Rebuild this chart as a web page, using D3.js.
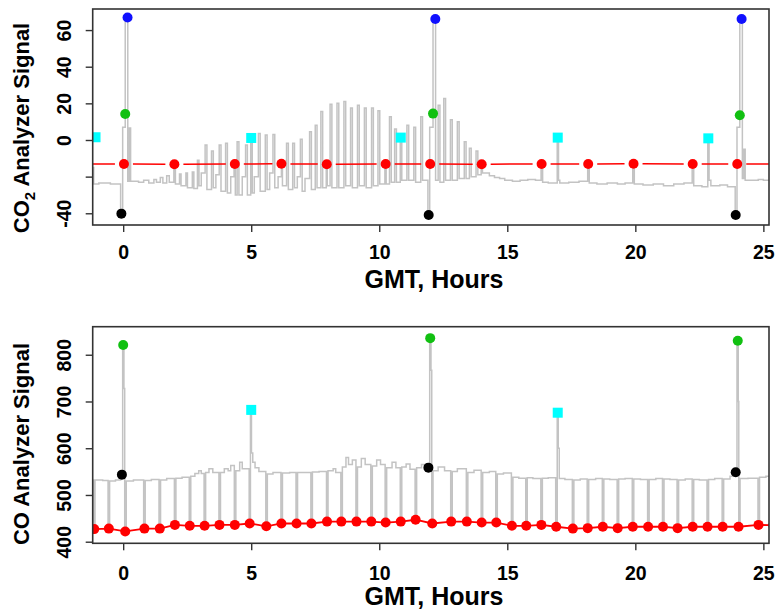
<!DOCTYPE html>
<html><head><meta charset="utf-8">
<script src="https://cdn.jsdelivr.net/npm/d3@7"></script>
<style>
body{margin:0;background:#fff}
svg{display:block}
text{font-family:"Liberation Sans",Arial,Helvetica,sans-serif;font-weight:bold;fill:#000}
</style>
</head><body>
<svg id="chart" width="778" height="611"></svg>
<script>
// ---------------- DATA ----------------
const xTicks = [0, 5, 10, 15, 20, 25];
const co2Ticks = [-40, -20, 0, 20, 40, 60];
const co2TickLabels = ["-40", "", "0", "20", "40", "60"];
const coTicks = [400, 500, 600, 700, 800];
const coTickLabels = ["400", "500", "600", "700", "800"];

// CO2 analyzer raw signal (hour, value), step trace
const co2Trace = [
[-1.25,-15],[-1.15,-24],[-0.95,-23.5],[-0.5,-24],[-0.1,-40],[-0.02,7],[0.08,66],[0.18,-22.5],[0.24,6.5],[0.29,-22.5],
[0.6,-23],[0.8,-22],[1.0,-23.5],[1.2,-21.5],[1.3,-23],[1.45,-20.5],[1.55,-23.5],[1.7,-19.5],[1.8,-23],[1.98,-13],[2.04,-24],
[2.2,-18.5],[2.26,-25],[2.45,-18],[2.51,-26],[2.7,-17.5],[2.76,-26.5],[2.9,-11],[2.96,-25],[3.05,-18],[3.2,-2.7],[3.27,-27],
[3.45,-6],[3.52,-26],[3.62,-19],[3.75,-2.7],[3.82,-28],[4.0,-1.8],[4.07,-29],[4.2,-20],[4.33,-13],[4.38,-30],[4.45,-1],[4.52,-30],
[4.65,-20],[4.78,-2.7],[4.85,-30],[4.98,1.1],[5.04,-29],[5.12,-20],[5.28,3.6],[5.35,-28],[5.55,2.7],[5.62,-27],[5.72,-18],
[5.85,3],[5.92,-26],[6.05,-20],[6.18,-13],[6.22,-25],[6.38,-1.8],[6.45,-27],[6.62,-1.8],[6.69,-26],[6.8,-20],[6.92,0.4],[6.99,-28],
[7.1,-21],[7.28,4.5],[7.35,-27],[7.5,8],[7.57,-26],[7.72,15.5],[7.79,-26],[7.93,-13],[7.97,-25],[8.08,19.5],[8.15,-26],
[8.35,20],[8.42,-26],[8.62,21],[8.69,-25],[8.88,17.5],[8.95,-26],[9.15,19],[9.22,-25],[9.42,17.5],[9.49,-26],[9.7,17.5],[9.77,-25],
[9.95,16],[10.02,-24],[10.22,-13],[10.27,-24],[10.4,12.7],[10.47,-23],[10.6,6],[10.67,-23],[10.82,1.3],[10.88,-22],
[11.08,8],[11.15,-22],[11.35,7],[11.42,-23],[11.62,12.7],[11.69,-22],[11.9,-40],[11.97,7],[12.1,66],[12.2,-22],
[12.3,19],[12.37,-23],[12.52,22.7],[12.59,-22],[12.78,11],[12.85,-22],[13.05,10],[13.12,-21],[13.32,-1],[13.39,-21],
[13.52,-4.5],[13.59,-20],[13.78,-6],[13.85,-19],[13.98,-13],[14.03,-18],[14.3,-19.5],[14.5,-20.5],[14.7,-21],[14.9,-22],
[15.2,-22.5],[15.5,-22],[15.8,-21.5],[16.1,-22],[16.32,-13],[16.38,-23],[16.6,-23.5],[16.95,1.3],[17.0,-22],[17.05,-23.5],
[17.4,-23],[17.8,-22.5],[18.14,-13],[18.2,-23.5],[18.5,-24],[18.9,-23.5],[19.3,-24],[19.6,-23.5],[19.9,-13],[19.96,-24],
[20.3,-24.5],[20.7,-24],[21.1,-25],[21.5,-24],[21.9,-23.5],[22.22,-13],[22.28,-25],[22.6,-25.5],[22.83,0.9],[22.88,-22],[22.95,-25],
[23.3,-24.5],[23.6,-25.5],[23.9,-40],[23.97,7],[24.08,66],[24.18,-21],[24.24,-5],[24.29,-22],[24.5,-22],[24.8,-21.5],[25.0,-22],[25.3,-21.5]
];
const co2ZeroHours = [-2.0, 0.03, 2.0, 4.36, 6.18, 7.95, 10.25, 11.99, 14.0, 16.34, 18.16, 19.93, 22.24, 23.98, 26.0];
const co2ZeroVals  = [-13.2, -13.1, -13.2, -13.1, -13.0, -13.2, -13.1, -13.1, -13.2, -13.1, -13.1, -13.0, -13.1, -13.1, -13.2];
const co2CyanHours = [-1.08, 5.0, 10.84, 16.97, 22.85];
const co2CyanVals  = [1.5, 1.1, 1.3, 1.3, 0.9];
const co2BlackHours = [-0.07, 11.93, 23.92];
const co2BlackVals  = [-40.2, -40.9, -40.9];
const co2GreenHours = [0.08, 12.1, 24.08];
const co2GreenVals  = [14.2, 14.4, 13.5];
const co2BlueHours = [0.17, 12.19, 24.15];
const co2BlueVals  = [66.9, 66, 66];

// CO analyzer raw signal (hour, value), step trace
const coTrace = [
[-1.25,532],[-1.16,427],[-1.1,532],[-0.8,531],[-0.59,428],[-0.53,530],[-0.3,532],[-0.1,543],[-0.02,821],[0.03,728],[0.06,422],[0.12,530],
[0.4,532],[0.8,428],[0.86,531],[1.1,533],[1.4,428],[1.46,532],[1.7,535],[2.0,436],[2.06,536],[2.3,538],[2.58,434],[2.64,540],
[2.8,546],[2.95,552],[3.05,546],[3.16,434],[3.22,548],[3.35,556],[3.5,548],[3.74,436],[3.8,548],[3.95,556],[4.1,552],[4.2,563],
[4.34,436],[4.4,552],[4.55,570],[4.65,556],[4.92,439],[4.97,682],[5.01,590],[5.06,570],[5.15,558],[5.3,550],[5.57,433],[5.63,545],
[5.85,548],[6.16,439],[6.22,547],[6.5,548],[6.75,439],[6.81,548],[7.05,548],[7.33,439],[7.39,549],[7.65,550],[7.94,443],[8.0,552],
[8.2,556],[8.3,548],[8.5,443],[8.56,560],[8.7,580],[8.8,565],[8.95,575],[9.09,443],[9.15,560],[9.3,578],[9.45,565],[9.67,443],
[9.73,562],[9.9,575],[10.05,565],[10.23,441],[10.29,558],[10.5,570],[10.65,558],[10.82,443],[10.88,560],[11.05,566],[11.2,555],
[11.4,447],[11.46,558],[11.65,565],[11.88,558],[11.97,835],[12.02,767],[12.05,439],[12.1,552],[12.3,560],[12.55,552],[12.79,443],
[12.85,550],[13.05,556],[13.4,443],[13.46,548],[13.7,553],[13.98,441],[14.04,548],[14.3,550],[14.55,441],[14.61,545],[14.85,547],
[15.16,434],[15.22,538],[15.45,536],[15.72,434],[15.78,537],[16.0,535],[16.31,436],[16.37,536],[16.6,537],[16.89,432],[16.95,676],
[16.99,600],[17.03,535],[17.25,533],[17.54,428],[17.6,532],[17.85,534],[18.12,429],[18.18,533],[18.45,535],[18.71,432],[18.77,534],
[19.0,533],[19.29,429],[19.35,534],[19.6,535],[19.88,432],[19.94,534],[20.2,533],[20.48,432],[20.54,533],[20.8,535],[21.06,432],
[21.12,534],[21.35,533],[21.63,429],[21.69,532],[21.95,534],[22.22,432],[22.28,533],[22.5,532],[22.8,432],[22.86,533],[23.1,535],
[23.39,432],[23.45,534],[23.7,540],[23.88,548],[23.97,830],[24.02,700],[24.04,432],[24.09,535],[24.4,536],[24.79,436],[24.85,538],
[25.1,540],[25.3,540]
];
const coZeroHours = [-1.71, -1.13, -0.56, 0.08, 0.83, 1.43, 2.02, 2.60, 3.18, 3.76, 4.36, 4.94, 5.59, 6.18, 6.77, 7.35, 7.96, 8.52, 9.11, 9.69, 10.25,
  10.84, 11.42, 12.07, 12.81, 13.42, 14.0, 14.57, 15.18, 15.74, 16.33, 16.91, 17.56, 18.14, 18.73, 19.31, 19.90, 20.5, 21.08, 21.65, 22.24,
  22.82, 23.41, 24.03, 24.81, 25.39];
const coZeroVals = [427, 427, 428, 422, 428, 428, 436, 434, 434, 436, 436, 439, 433, 439, 439, 439, 443, 443, 443, 443, 441,
  443, 447, 439, 443, 443, 441, 441, 434, 434, 436, 432, 428, 429, 432, 429, 432, 432, 432, 429, 432,
  432, 432, 432, 436, 435];
const coCyanHours = [5.0, 16.97];
const coCyanVals  = [682, 676];
const coBlackHours = [-0.05, 11.92, 23.92];
const coBlackVals  = [543.5, 558.5, 548.6];
const coGreenHours = [0.0, 11.99, 24.0];
const coGreenVals  = [821, 835.5, 829.8];

// ---------------- DRAWING ----------------
const svg = d3.select("#chart");
const L = 92.7, R = 769;
const x = d3.scaleLinear().domain([-1.19, 25.22]).range([L, R]);
const axisCol = "#333";

function panel(id, y0, y1, yDomain, ticks, tickLabels, xTickBase, xTitleBase, yTitleCenter, yTitleFn) {
  const y = d3.scaleLinear().domain(yDomain).range([y1, y0]);
  const clipId = "clip" + id;
  svg.append("clipPath").attr("id", clipId)
    .append("rect").attr("x", L).attr("y", y0).attr("width", R - L).attr("height", y1 - y0);
  const g = svg.append("g");
  const plot = g.append("g").attr("clip-path", `url(#${clipId})`);
  const xa = g.append("g").attr("transform", `translate(0,${y1})`)
    .call(d3.axisBottom(x).tickValues(xTicks).tickSize(7).tickSizeOuter(0).tickFormat(d3.format("d")));
  xa.select(".domain").remove();
  xa.selectAll("line").attr("stroke", axisCol).attr("stroke-width", 1.4);
  xa.selectAll("text").attr("y", xTickBase - y1).attr("dy", null)
    .style("font-size", "19.5px").style("font-family", "Liberation Sans, Arial, sans-serif").style("font-weight", "bold").attr("fill", "#000");
  const ya = g.append("g").attr("transform", `translate(${L},0)`)
    .call(d3.axisLeft(y).tickValues(ticks).tickSize(7).tickSizeOuter(0).tickFormat((d, i) => tickLabels[i]));
  ya.select(".domain").remove();
  ya.selectAll("line").attr("stroke", axisCol).attr("stroke-width", 1.4);
  ya.selectAll("text").attr("x", null).attr("dy", null).attr("y", 0)
    .attr("text-anchor", "middle")
    .attr("transform", `translate(${71 - L},0) rotate(-90)`)
    .style("font-size", "19.5px").style("font-family", "Liberation Sans, Arial, sans-serif").style("font-weight", "bold").attr("fill", "#000");
  g.append("rect").attr("x", L).attr("y", y0).attr("width", R - L).attr("height", y1 - y0)
    .attr("fill", "none").attr("stroke", axisCol).attr("stroke-width", 1.6);
  g.append("text").attr("x", 434).attr("y", xTitleBase).attr("text-anchor", "middle")
    .style("font-size", "25px").text("GMT, Hours");
  const yt = g.append("text").attr("transform", `translate(29,${yTitleCenter}) rotate(-90)`)
    .attr("text-anchor", "middle").style("font-size", "22px");
  yTitleFn(yt);
  return {y, plot, g};
}

function drawTrace(p, trace) {
  const line = d3.line().x(d => x(d[0])).y(d => p.y(d[1])).curve(d3.curveStepAfter);
  p.plot.append("path").attr("d", line(trace)).attr("fill", "none")
    .attr("stroke", "#c3c3c3").attr("stroke-width", 1.5);
}
function dots(p, hours, vals, color, r) {
  p.plot.append("g").selectAll("circle").data(hours).join("circle")
    .attr("cx", d => x(d)).attr("cy", (d, i) => p.y(vals[i])).attr("r", r).attr("fill", color);
}
function squares(p, hours, vals, color, s) {
  p.plot.append("g").selectAll("rect").data(hours).join("rect")
    .attr("x", d => x(d) - s / 2).attr("y", (d, i) => p.y(vals[i]) - s / 2)
    .attr("width", s).attr("height", s).attr("fill", color);
}

// ---- Top panel: CO2
const pTop = panel("A", 9, 225, [-46.4, 71.5], co2Ticks, co2TickLabels, 259, 288, 128, t => {
  t.append("tspan").text("CO");
  t.append("tspan").text("2").style("font-size", "15px").attr("dy", 6);
  t.append("tspan").text(" Analyzer Signal").attr("dy", -6);
});
drawTrace(pTop, co2Trace);
{
  const gap = 9;
  const pts = co2ZeroHours.map((h, i) => [x(h), pTop.y(co2ZeroVals[i])]);
  const segs = [];
  for (let i = 0; i < pts.length - 1; i++) {
    const [x1, y1] = pts[i], [x2, y2] = pts[i + 1];
    const len = Math.hypot(x2 - x1, y2 - y1);
    if (len <= 2 * gap) continue;
    const ux = (x2 - x1) / len, uy = (y2 - y1) / len;
    segs.push([x1 + ux * gap, y1 + uy * gap, x2 - ux * gap, y2 - uy * gap]);
  }
  pTop.plot.append("g").selectAll("line").data(segs).join("line")
    .attr("x1", d => d[0]).attr("y1", d => d[1]).attr("x2", d => d[2]).attr("y2", d => d[3])
    .attr("stroke", "#ff0000").attr("stroke-width", 1.5);
}
dots(pTop, co2ZeroHours, co2ZeroVals, "#ff0000", 5);
squares(pTop, co2CyanHours, co2CyanVals, "#00ffff", 10);
dots(pTop, co2BlackHours, co2BlackVals, "#000000", 5);
dots(pTop, co2GreenHours, co2GreenVals, "#11c011", 5);
dots(pTop, co2BlueHours, co2BlueVals, "#1010ff", 5);

// ---- Bottom panel: CO
const pBot = panel("B", 326.7, 543.3, [396.6, 860], coTicks, coTickLabels, 580, 605, 444, t => {
  t.text("CO Analyzer Signal");
});
drawTrace(pBot, coTrace);
pBot.plot.append("path")
  .attr("d", d3.line().x(d => x(d)).y((d, i) => pBot.y(coZeroVals[i]))(coZeroHours))
  .attr("fill", "none").attr("stroke", "#ff0000").attr("stroke-width", 1.8);
dots(pBot, coZeroHours, coZeroVals, "#ff0000", 5);
squares(pBot, coCyanHours, coCyanVals, "#00ffff", 10);
dots(pBot, coBlackHours, coBlackVals, "#000000", 5);
dots(pBot, coGreenHours, coGreenVals, "#11c011", 5);
</script>
</body></html>
